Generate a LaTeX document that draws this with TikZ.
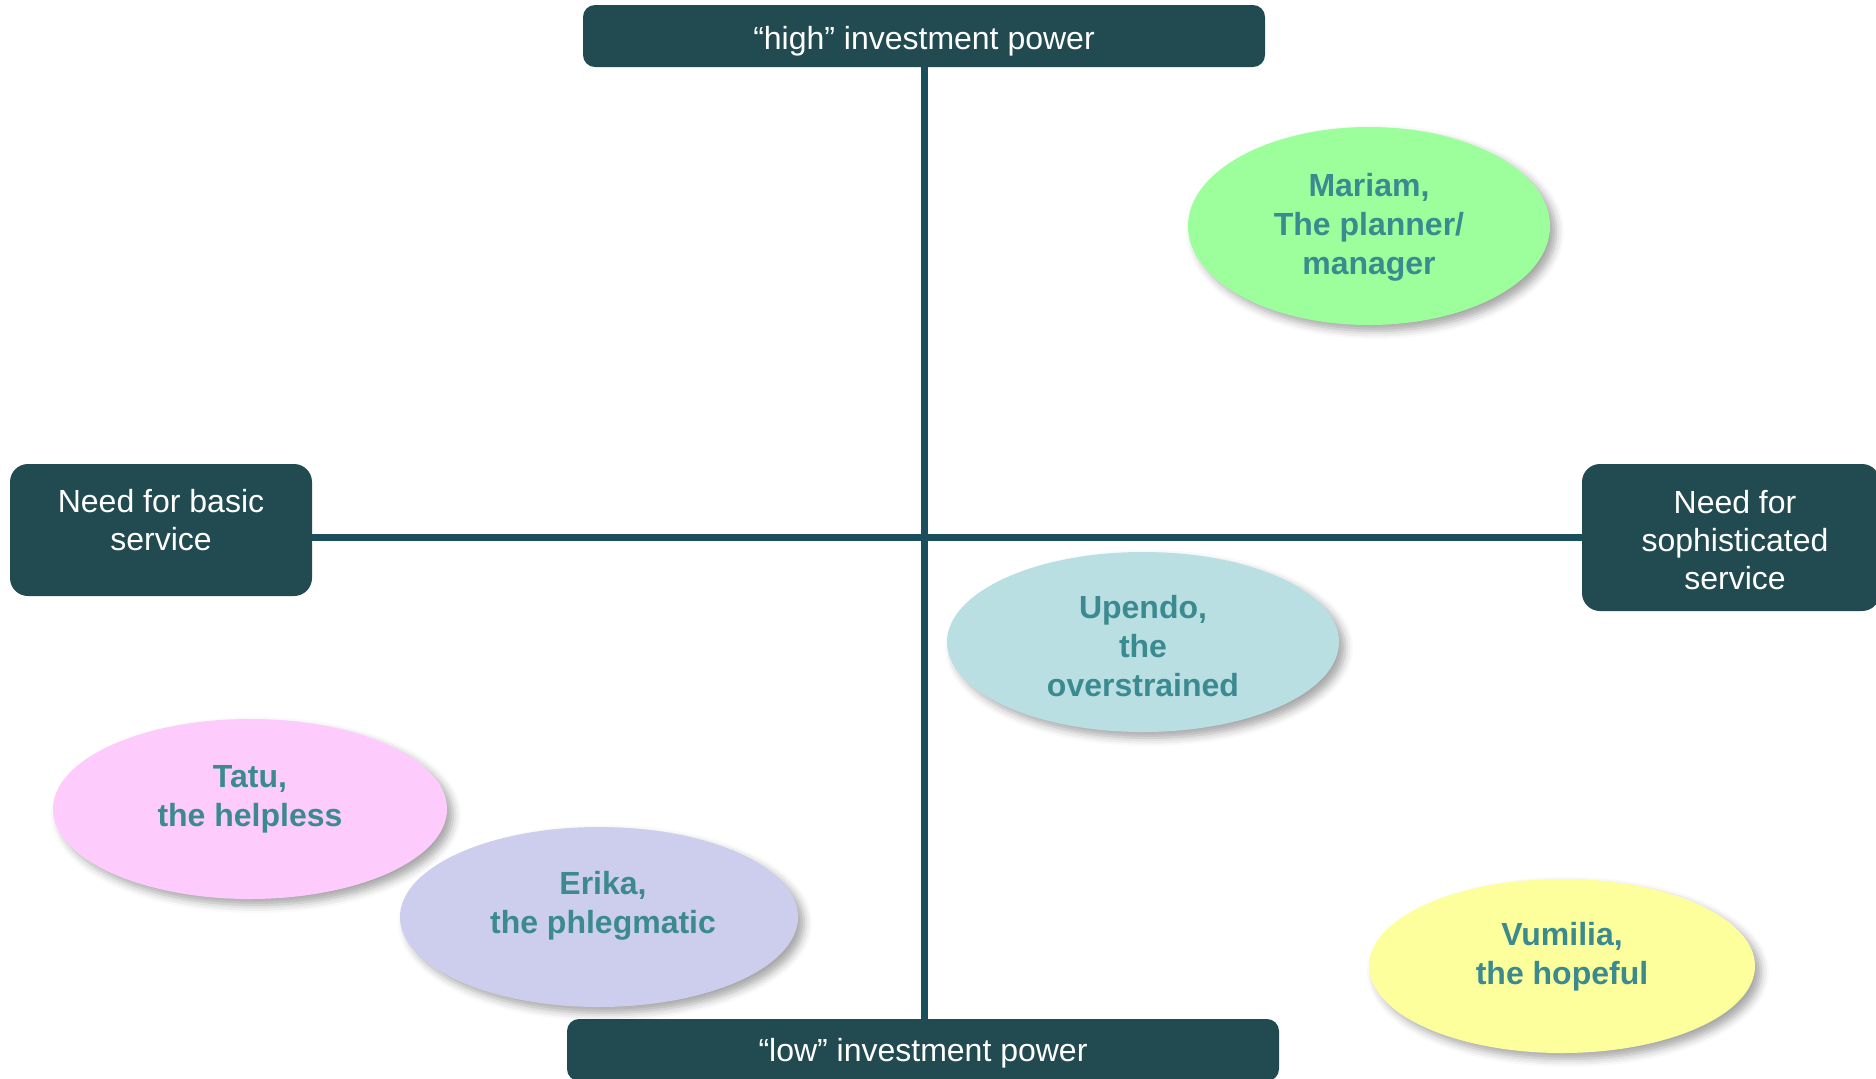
\documentclass[tikz,border=0pt]{standalone}
\usepackage{fontspec}
\setmainfont{Liberation Sans}
\usetikzlibrary{shapes.geometric,shadows.blur}
\definecolor{boxfill}{HTML}{214B51}
\definecolor{axiscol}{HTML}{1B4E5C}
\definecolor{nametxt}{HTML}{3A8A8F}
\definecolor{cgreen}{HTML}{9CFF9C}
\definecolor{cblue}{HTML}{B9DFE3}
\definecolor{cpink}{HTML}{FDCCFD}
\definecolor{clav}{HTML}{CDCDEE}
\definecolor{cyellow}{HTML}{FDFF9C}
\tikzset{
  axisbox/.style={fill=boxfill, rounded corners=6pt, inner sep=0pt},
  boxtext/.style={text=white, font=\fontsize{16}{19}\selectfont, align=center, inner sep=0pt},
  axisline/.style={draw=axiscol, line width=3.5pt},
  persona/.style={ellipse, inner sep=0pt, draw=none,
    blur shadow={shadow xshift=3pt, shadow yshift=-3pt, shadow blur radius=4pt, shadow opacity=35}},
  nametext/.style={text=nametxt, font=\fontsize{16}{19.5}\selectfont\bfseries, align=center, inner sep=0pt}
}
\begin{document}
\begin{tikzpicture}[x=0.5pt,y=-0.5pt]
\useasboundingbox (0,0) rectangle (1876,1078);

% axis end boxes
\node[axisbox, minimum width=341pt, minimum height=31pt] (high) at (924,36) {};
\node[boxtext] at ([yshift=-2.5pt]high.center) {“high” investment power};
\node[axisbox, minimum width=356pt, minimum height=31pt] (low) at (923,1050) {};
\node[boxtext] at ([yshift=-1.5pt]low.center) {“low” investment power};
\node[axisbox, rounded corners=9pt, minimum width=151pt, minimum height=66pt] (basic) at (161,530) {};
\node[boxtext] at ([yshift=5pt]basic.center) {Need for basic\\service};
\node[axisbox, rounded corners=9pt, minimum width=149pt, minimum height=73.5pt] (soph) at (1731,537.5) {};
\node[boxtext] at ([xshift=2pt,yshift=-1.5pt]soph.center) {Need for\\sophisticated\\service};

% axes
\draw[axisline] (high.south) -- (high.south |- low.north);
\draw[axisline] (basic.east |- soph.west) -- (soph.west);

% personas
\node[persona, fill=cgreen, minimum width=181pt, minimum height=99pt] (mariam) at (1369,226) {};
\node[nametext] at ([yshift=-0.5pt]mariam.center) {Mariam,\\The planner/\\manager};

\node[persona, fill=cblue, minimum width=196pt, minimum height=90pt] (upendo) at (1143,642) {};
\node[nametext] at ([yshift=-2pt]upendo.center) {Upendo,\\the\\overstrained};

\node[persona, fill=cpink, minimum width=197pt, minimum height=90pt] (tatu) at (250,809) {};
\node[nametext] at ([yshift=5pt]tatu.center) {Tatu,\\the helpless};

\node[persona, fill=clav, minimum width=199pt, minimum height=90pt] (erika) at (599,917) {};
\node[nametext] at ([xshift=2pt,yshift=5.5pt]erika.center) {Erika,\\the phlegmatic};

\node[persona, fill=cyellow, minimum width=193pt, minimum height=87pt] (vumilia) at (1562,966) {};
\node[nametext] at ([yshift=4.5pt]vumilia.center) {Vumilia,\\the hopeful};
\end{tikzpicture}
\end{document}
